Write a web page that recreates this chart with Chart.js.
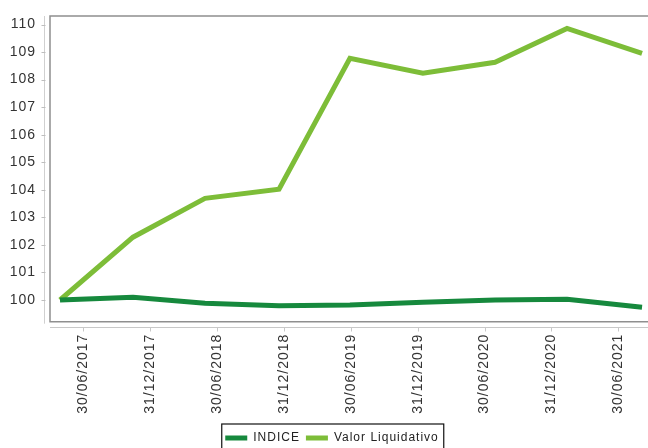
<!DOCTYPE html>
<html>
<head>
<meta charset="utf-8">
<script src="https://cdn.jsdelivr.net/npm/chart.js@4.4.1/dist/chart.umd.min.js"></script>
<style>
  html, body { margin: 0; padding: 0; background: #fff; overflow: hidden; }
  canvas { display: block; }
</style>
</head>
<body>
<canvas id="c" width="648" height="448"></canvas>
<script>
// ---- data ----
const tickMonths = [0, 6, 12, 18, 24, 30, 36, 42, 48];
const tickLabels = ['30/06/2017','31/12/2017','30/06/2018','31/12/2018','30/06/2019','31/12/2019','30/06/2020','31/12/2020','30/06/2021'];
const pointMonths = [-2.09, 4.46, 10.92, 17.56, 23.92, 30.47, 36.94, 43.4, 50.13];
const indice = [100.0, 100.1, 99.88, 99.79, 99.82, 99.92, 100.0, 100.03, 99.74];
const valorLiquidativo = [100.0, 102.28, 103.69, 104.02, 108.77, 108.23, 108.63, 109.86, 108.95];
const yTicks = [100, 101, 102, 103, 104, 105, 106, 107, 108, 109, 110];

const FONT = '"Liberation Sans", Arial, sans-serif';

const framePlugin = {
  id: 'frame',
  beforeUpdate(chart) { chart.ctx.letterSpacing = '1px'; },
  afterLayout(chart) {
    if (chart.legend) { chart.legend.left += 16; }
  },
  beforeDraw(chart) { chart.ctx.letterSpacing = '1px'; },
  beforeDatasetsDraw(chart) {
    const {ctx, chartArea: a, scales} = chart;
    ctx.save();
    // y axis faint line and ticks
    ctx.strokeStyle = '#d0d0d0';
    ctx.lineWidth = 1;
    ctx.beginPath();
    ctx.moveTo(44.5, a.top);
    ctx.lineTo(44.5, a.bottom + 2);
    ctx.stroke();
    ctx.strokeStyle = '#bdbdbd';
    yTicks.forEach(v => {
      const y = Math.round(scales.y.getPixelForValue(v)) + 0.5;
      ctx.beginPath();
      ctx.moveTo(41.5, y);
      ctx.lineTo(45.5, y);
      ctx.stroke();
    });
    // x axis line and ticks
    const xl = Math.round(a.bottom + 5.5) + 0.5;
    ctx.strokeStyle = '#c8c8c8';
    ctx.beginPath();
    ctx.moveTo(a.left, xl);
    ctx.lineTo(a.right, xl);
    ctx.stroke();
    tickMonths.forEach(m => {
      const x = Math.round(scales.x.getPixelForValue(m)) + 0.5;
      ctx.beginPath();
      ctx.moveTo(x, xl);
      ctx.lineTo(x, xl + 4);
      ctx.stroke();
    });
    // plot frame
    ctx.strokeStyle = '#8f8f8f';
    ctx.lineWidth = 1.5;
    ctx.beginPath();
    ctx.moveTo(a.right + 2, a.top);
    ctx.lineTo(a.left, a.top);
    ctx.lineTo(a.left, a.bottom);
    ctx.lineTo(a.right + 2, a.bottom);
    ctx.stroke();
    ctx.restore();
  },
  afterDraw(chart) {
    const lg = chart.legend;
    if (!lg || !lg.legendHitBoxes || !lg.legendHitBoxes.length) return;
    const hb = lg.legendHitBoxes;
    const l = hb[0].left - 3.5;
    const last = hb[hb.length - 1];
    const r = last.left + last.width + 5;
    const ctx = chart.ctx;
    ctx.save();
    ctx.strokeStyle = '#111';
    ctx.lineWidth = 1.2;
    ctx.strokeRect(l, lg.top - 2, r - l, chart.height + 10 - (lg.top - 2));
    ctx.restore();
  }
};

const ctx = document.getElementById('c').getContext('2d');
new Chart(ctx, {
  type: 'line',
  data: {
    datasets: [
      {
        label: 'INDICE',
        data: pointMonths.map((m, i) => ({x: m, y: indice[i]})),
        borderColor: '#16893d',
        backgroundColor: '#16893d',
        borderWidth: 5,
        pointRadius: 0,
        tension: 0
      },
      {
        label: 'Valor Liquidativo',
        data: pointMonths.map((m, i) => ({x: m, y: valorLiquidativo[i]})),
        borderColor: '#7dbd38',
        backgroundColor: '#7dbd38',
        borderWidth: 5,
        pointRadius: 0,
        tension: 0
      }
    ]
  },
  options: {
    responsive: false,
    animation: false,
    devicePixelRatio: 1,
    layout: { padding: { top: 16, left: 0, right: 0, bottom: -6 } },
    scales: {
      x: {
        type: 'linear',
        min: -2.988,
        max: 50.665,
        afterBuildTicks: s => { s.ticks = tickMonths.map(v => ({value: v})); },
        afterFit: s => { s.height = 104.3; s.paddingLeft = 0; s.paddingRight = 0; },
        grid: { display: false, drawTicks: false },
        border: { display: false },
        ticks: {
          autoSkip: false,
          maxRotation: 90,
          minRotation: 90,
          padding: 12,
          color: '#333',
          font: { family: FONT, size: 14 },
          callback: v => tickLabels[tickMonths.indexOf(v)] || ''
        }
      },
      y: {
        type: 'linear',
        min: 99.212,
        max: 110.309,
        afterBuildTicks: s => { s.ticks = yTicks.map(v => ({value: v})); },
        afterFit: s => { s.width = 50; s.paddingTop = 0; s.paddingBottom = 0; },
        grid: { display: false, drawTicks: false },
        border: { display: false },
        ticks: {
          padding: 14,
          color: '#333',
          font: { family: FONT, size: 14 }
        }
      }
    },
    plugins: {
      legend: {
        position: 'bottom',
        labels: {
          boxWidth: 22,
          boxHeight: 5,
          padding: 6,
          color: '#222',
          font: { family: FONT, size: 12 },
          generateLabels: chart => Chart.defaults.plugins.legend.labels.generateLabels(chart).map(it => Object.assign(it, {lineWidth: 0, fillStyle: it.strokeStyle}))
        }
      },
      tooltip: { enabled: false }
    }
  },
  plugins: [framePlugin]
});
</script>
</body>
</html>
